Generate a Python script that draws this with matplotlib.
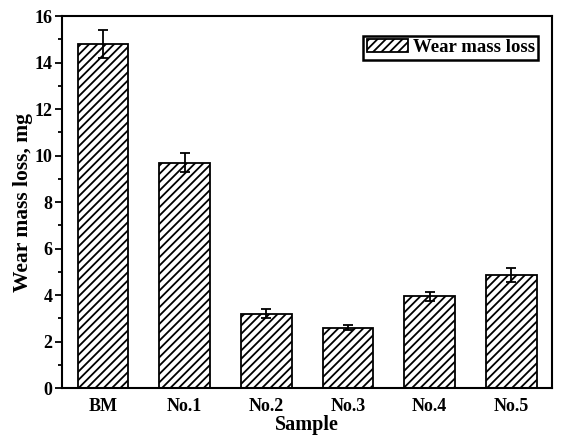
import matplotlib
matplotlib.use("Agg")
import matplotlib.pyplot as plt
from matplotlib.ticker import MultipleLocator

samples = ["BM", "No.1", "No.2", "No.3", "No.4", "No.5"]
wear_loss = [14.8, 9.7, 3.2, 2.6, 3.95, 4.85]
wear_err = [0.6, 0.4, 0.2, 0.1, 0.2, 0.3]

plt.rcParams['font.family'] = ['Liberation Serif', 'DejaVu Serif']
plt.rcParams['font.weight'] = 'bold'
plt.rcParams['hatch.linewidth'] = 1.3

fig = plt.figure(figsize=(5.64, 4.37), dpi=100)
ax = fig.add_axes([0.110, 0.112, 0.869, 0.851])

x = range(len(samples))
ax.bar(x, wear_loss, width=0.62, color='white', edgecolor='black', linewidth=1.3,
       hatch='////', label='Wear mass loss', yerr=wear_err,
       error_kw=dict(ecolor='black', elinewidth=1.3, capsize=3.5, capthick=1.3))

ax.set_xlim(-0.5, len(samples) - 0.5)
ax.set_ylim(0, 16)
ax.set_xticks(list(x))
ax.set_xticklabels(samples, fontsize=13, fontweight='bold')
ax.yaxis.set_major_locator(MultipleLocator(2))
ax.yaxis.set_minor_locator(MultipleLocator(1))
for lab in ax.get_yticklabels():
    lab.set_fontsize(13)
    lab.set_fontweight('bold')
ax.tick_params(axis='x', length=0, pad=7)
ax.tick_params(axis='y', which='major', direction='out', length=5, width=1.3, pad=2)
ax.tick_params(axis='y', which='minor', direction='out', length=3, width=1.3)
for s in ax.spines.values():
    s.set_linewidth(1.5)

ax.set_xlabel('Sample', fontsize=14.5, fontweight='bold', labelpad=0)
ax.set_ylabel('Wear mass loss, mg', fontsize=15.5, fontweight='bold', labelpad=1)

leg = ax.legend(loc='upper right', bbox_to_anchor=(0.972, 0.948), fontsize=13.5,
                frameon=True, fancybox=False, edgecolor='black', framealpha=1,
                handlelength=2.2, handleheight=0.7, borderpad=0.2,
                handletextpad=0.25, borderaxespad=0)
leg.get_frame().set_linewidth(1.8)

fig.savefig('out.png', dpi=100)
